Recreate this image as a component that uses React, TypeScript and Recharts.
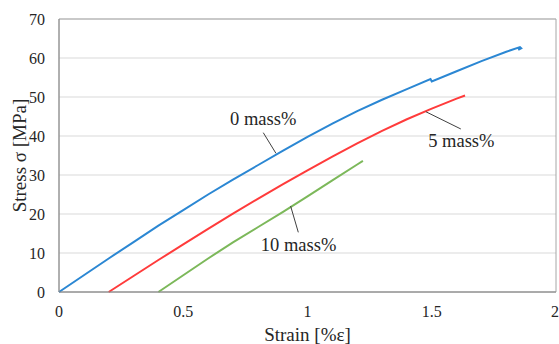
import {
  LineChart,
  Line,
  XAxis,
  YAxis,
  CartesianGrid,
  ReferenceArea,
  ReferenceLine,
  ReferenceDot,
} from 'recharts';

const FONT = "'Liberation Serif', 'Times New Roman', serif";

// strain [%] / stress [MPa]
const mass0 = [
  { x: 0, y: 0 }, { x: 0.1, y: 4.3 }, { x: 0.2, y: 8.6 }, { x: 0.3, y: 12.8 },
  { x: 0.4, y: 17 }, { x: 0.5, y: 21 }, { x: 0.6, y: 25 }, { x: 0.7, y: 28.8 },
  { x: 0.8, y: 32.5 }, { x: 0.9, y: 36.2 }, { x: 1.0, y: 39.8 }, { x: 1.1, y: 43.2 },
  { x: 1.2, y: 46.4 }, { x: 1.3, y: 49.3 }, { x: 1.4, y: 52.0 }, { x: 1.495, y: 54.6 },
  { x: 1.5, y: 54.0 }, { x: 1.6, y: 56.6 }, { x: 1.7, y: 59.2 }, { x: 1.8, y: 61.6 },
  { x: 1.855, y: 62.8 }, { x: 1.86, y: 62.5 }, { x: 1.848, y: 62.1 },
];
const mass5 = [
  { x: 0.2, y: 0 }, { x: 0.3, y: 4.1 }, { x: 0.4, y: 8.2 }, { x: 0.5, y: 12.2 },
  { x: 0.6, y: 16.2 }, { x: 0.7, y: 20.1 }, { x: 0.8, y: 23.9 }, { x: 0.9, y: 27.6 },
  { x: 1.0, y: 31.2 }, { x: 1.1, y: 34.7 }, { x: 1.2, y: 38.1 }, { x: 1.3, y: 41.3 },
  { x: 1.4, y: 44.3 }, { x: 1.5, y: 47.0 }, { x: 1.6, y: 49.6 }, { x: 1.634, y: 50.4 },
];
const mass10 = [
  { x: 0.4, y: 0 }, { x: 0.5, y: 4.3 }, { x: 0.6, y: 8.6 }, { x: 0.7, y: 12.7 },
  { x: 0.8, y: 16.6 }, { x: 0.9, y: 20.5 }, { x: 1.0, y: 24.5 }, { x: 1.1, y: 28.6 },
  { x: 1.2, y: 32.7 }, { x: 1.223, y: 33.6 },
];

const xTicks = [0, 0.5, 1, 1.5, 2];
const yTicks = [0, 10, 20, 30, 40, 50, 60, 70];

// callouts: text anchor + leader line, in data units
const callouts = [
  { text: '0 mass%', at: { x: 0.822, y: 44.5 }, from: { x: 0.822, y: 40.85 }, to: { x: 0.873, y: 35.56 } },
  { text: '5 mass%', at: { x: 1.619, y: 38.85 }, from: { x: 1.476, y: 46.23 }, to: { x: 1.617, y: 41.8 } },
  { text: '10 mass%', at: { x: 0.964, y: 12.2 }, from: { x: 0.932, y: 22.05 }, to: { x: 0.963, y: 15.3 } },
];

const tickStyle = { fontSize: 16, fill: '#262626', style: { fontFamily: FONT } };

function CalloutText(props: any) {
  const { cx, cy, text } = props;
  return (
    <text x={cx} y={cy} dy="0.35em" textAnchor="middle" fontSize={18.5} fill="#262626" style={{ fontFamily: FONT }}>
      {text}
    </text>
  );
}

function YTitle(props: any) {
  const vb = props.viewBox || { y: 19, height: 273 };
  const cy = vb.y + vb.height / 2;
  return (
    <text transform={`translate(26,${cy}) rotate(-90)`} textAnchor="middle" fontSize={19} fill="#262626" style={{ fontFamily: FONT }}>
      Stress σ [MPa]
    </text>
  );
}

export default function App() {
  return (
    <div style={{ position: 'absolute', left: 0, top: 0, width: 559, height: 344, background: '#fff', fontFamily: FONT }}>
      <LineChart width={559} height={344} margin={{ top: 19, right: 3, left: 0, bottom: 0 }} style={{ fontFamily: FONT }}>
        <ReferenceArea x1={0} x2={2} y1={0} y2={70} fill="none" stroke="#a6a6a6" strokeWidth={1} ifOverflow="visible" />
        <CartesianGrid vertical={false} stroke="#d9d9d9" />
        <XAxis
          dataKey="x"
          type="number"
          domain={[0, 2]}
          ticks={xTicks}
          tickLine={false}
          tickSize={0}
          tickMargin={14}
          axisLine={{ stroke: '#8c8c8c' }}
          tick={tickStyle}
          height={52}
          allowDuplicatedCategory={false}
          label={{ value: 'Strain [%ε]', position: 'insideBottom', offset: 3.5, fontSize: 19, fill: '#262626', style: { fontFamily: FONT } }}
        />
        <YAxis
          type="number"
          domain={[0, 70]}
          ticks={yTicks}
          tickLine={false}
          tickSize={0}
          tickMargin={14}
          axisLine={{ stroke: '#8c8c8c' }}
          tick={tickStyle}
          width={59}
          label={<YTitle />}
        />
        <Line data={mass0} dataKey="y" type="linear" stroke="#2b87d3" strokeWidth={2} dot={false} isAnimationActive={false} />
        <Line data={mass5} dataKey="y" type="linear" stroke="#ff3b3b" strokeWidth={2} dot={false} isAnimationActive={false} />
        <Line data={mass10} dataKey="y" type="linear" stroke="#7cb85a" strokeWidth={2} dot={false} isAnimationActive={false} />
        {callouts.map((c) => (
          <ReferenceLine key={c.text + 'l'} segment={[c.from, c.to]} stroke="#404040" strokeWidth={1} ifOverflow="visible" />
        ))}
        {callouts.map((c) => (
          <ReferenceDot
            key={c.text}
            x={c.at.x}
            y={c.at.y}
            r={1}
            ifOverflow="visible"
            shape={(p: any) => <CalloutText {...p} text={c.text} />}
          />
        ))}
      </LineChart>
    </div>
  );
}
